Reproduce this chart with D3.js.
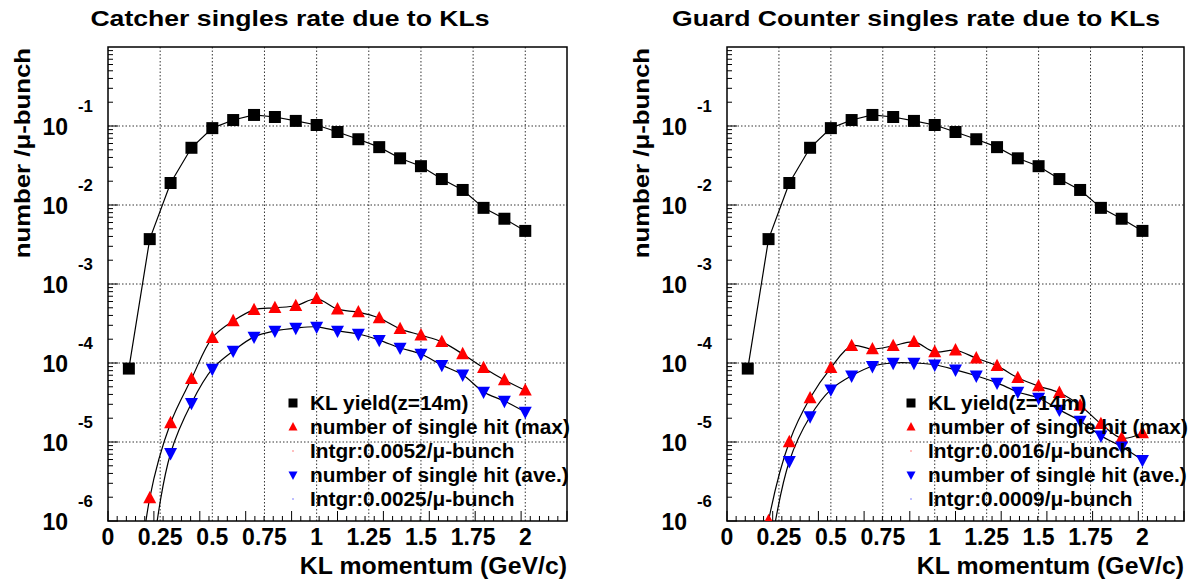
<!DOCTYPE html>
<html><head><meta charset="utf-8">
<script src="https://cdn.jsdelivr.net/npm/d3@7"></script>
<style>
body{margin:0;background:#fff}
svg{display:block}
text{font-family:"Liberation Sans",Arial,Helvetica,sans-serif;font-weight:bold;fill:#000}
</style>
</head><body>
<svg id="c" width="1193" height="584"></svg>
<script>
// ---------------- data ----------------
const momentum = [0.1,0.2,0.3,0.4,0.5,0.6,0.7,0.8,0.9,1.0,1.1,1.2,1.3,1.4,1.5,1.6,1.7,1.8,1.9,2.0];
const klYield = [8.5e-5,3.7e-3,1.9e-2,5.3e-2,0.094,0.119,0.138,0.130,0.116,0.103,0.084,0.068,0.054,0.039,0.031,0.0213,0.0155,0.0092,0.0067,0.0047];
const catcherMax = [1e-8,1.95e-6,1.74e-5,6.3e-5,2.08e-4,3.4e-4,4.7e-4,5.0e-4,5.3e-4,6.5e-4,4.8e-4,4.4e-4,3.7e-4,2.7e-4,2.25e-4,1.85e-4,1.3e-4,8.7e-5,6.1e-5,4.5e-5];
const catcherAve = [1e-9,2.2e-7,7.2e-6,3.1e-5,8.4e-5,1.42e-4,2.14e-4,2.55e-4,2.77e-4,2.87e-4,2.55e-4,2.33e-4,1.95e-4,1.55e-4,1.30e-4,9.4e-5,7.1e-5,4.3e-5,3.3e-5,2.4e-5];
const guardMax = [1e-8,1.0e-6,1.0e-5,3.6e-5,8.7e-5,1.65e-4,1.5e-4,1.65e-4,1.85e-4,1.38e-4,1.45e-4,1.15e-4,9.2e-5,6.5e-5,5.1e-5,4.2e-5,2.9e-5,1.7e-5,1.12e-5,1.3e-5];
const guardAve = [1e-9,3e-7,5.7e-6,2.1e-5,4.6e-5,6.9e-5,9.1e-5,1.0e-4,1.0e-4,9.5e-5,8.2e-5,6.9e-5,5.6e-5,4.3e-5,3.6e-5,2.55e-5,1.85e-5,1.2e-5,8.7e-6,5.9e-6];

const xTickValues = [0,0.25,0.5,0.75,1,1.25,1.5,1.75,2];
const xTickLabels = ["0","0.25","0.5","0.75","1","1.25","1.5","1.75","2"];
const yDecadeExponents = [-1,-2,-3,-4,-5,-6];

const panelTitles = ["Catcher singles rate due to KLs","Guard Counter singles rate due to KLs"];
const legendLabels = ["KL yield(z=14m)","number of single hit (max)","Intgr:0.0052/\u03bc-bunch","number of single hit (ave.)","Intgr:0.0025/\u03bc-bunch"];
const legendLabels2 = ["KL yield(z=14m)","number of single hit (max)","Intgr:0.0016/\u03bc-bunch","number of single hit (ave.)","Intgr:0.0009/\u03bc-bunch"];
const xTitle = "KL momentum (GeV/c)";
const yTitle = "number /\u03bc-bunch";

// ---------------- drawing ----------------
const svg = d3.select("#c");
const panels = [
  {left:108, right:567, top:47, bottom:521, titleX:290, max:catcherMax, ave:catcherAve, legend:legendLabels, legX:293},
  {left:727, right:1184, top:47, bottom:521, titleX:916, max:guardMax, ave:guardAve, legend:legendLabels2, legX:911}
];

function markerPath(type, s){
  if(type==="square") return `M${-s/2},${-s/2}h${s}v${s}h${-s}Z`;
  const h = s*0.5;
  if(type==="up") return `M0,${-h*1.1}L${h},${h*0.8}L${-h},${h*0.8}Z`;
  return `M0,${h*1.1}L${h},${-h*0.8}L${-h},${-h*0.8}Z`;
}

// text placed at (x,y), horizontally stretched by sx around its anchor
function addText(sel, x, y, str, size, anchor, sx, rot){
  const tr = `translate(${x},${y})` + (rot?` rotate(${rot})`:"") + ` scale(${sx},1)`;
  return sel.append("text").attr("transform",tr).attr("text-anchor",anchor)
    .style("font-size",size+"px").text(str);
}

panels.forEach((p,i)=>{
  const g = svg.append("g");
  const x = d3.scaleLinear().domain([0,2.2]).range([p.left,p.right]);
  const y = d3.scaleLog().domain([1e-6,1]).range([p.bottom,p.top]);

  const clipId = "clip"+i;
  svg.append("clipPath").attr("id",clipId).append("rect")
    .attr("x",p.left).attr("y",p.top).attr("width",p.right-p.left).attr("height",p.bottom-p.top);

  // grid
  const grid = g.append("g").attr("stroke","#000").attr("stroke-width",0.8).attr("stroke-dasharray","1.5,2");
  xTickValues.filter(v=>v>0).forEach(v=>{
    grid.append("line").attr("x1",x(v)).attr("x2",x(v)).attr("y1",p.top).attr("y2",p.bottom);
  });
  yDecadeExponents.filter(e=>e>-6).forEach(e=>{
    grid.append("line").attr("x1",p.left).attr("x2",p.right).attr("y1",y(Math.pow(10,e))).attr("y2",y(Math.pow(10,e)));
  });

  // y ticks (log minor)
  const tk = g.append("g").attr("stroke","#000").attr("stroke-width",1);
  for(let e=-6;e<0;e++){
    for(let m=1;m<10;m++){
      const v = m*Math.pow(10,e);
      const yy = y(v);
      const len = m===1?10:5;
      tk.append("line").attr("x1",p.left).attr("x2",p.left+len).attr("y1",yy).attr("y2",yy);
    }
  }
  // x ticks
  const xMinor = d3.range(0,2.2001,0.044);
  xMinor.forEach((v,k)=>{
    const len = (k%5===0)?10:5;
    tk.append("line").attr("x1",x(v)).attr("x2",x(v)).attr("y1",p.bottom).attr("y2",p.bottom-len);
  });

  // frame
  g.append("rect").attr("x",p.left).attr("y",p.top).attr("width",p.right-p.left).attr("height",p.bottom-p.top)
    .attr("fill","none").attr("stroke","#000").attr("stroke-width",1.5);

  // x labels
  xTickValues.forEach((v,k)=>{
    addText(g, x(v), p.bottom+24, xTickLabels[k], 23, "middle", 1.0);
  });
  // y labels
  yDecadeExponents.forEach(e=>{
    const yy = y(Math.pow(10,e));
    addText(g, p.left-40, yy+9, "10", 23, "end", 1.0);
    addText(g, p.left-30, yy-14, String(e), 16, "start", 1.05);
  });

  // titles
  addText(g, p.titleX, 26, panelTitles[i], 22, "middle", 1.21);
  addText(g, p.right, 574, xTitle, 23, "end", 1.08);
  addText(g, p.left-78, p.top+1, yTitle, 23, "end", 1.12, -90);

  // data
  const dg = g.append("g").attr("clip-path",`url(#${clipId})`);
  const series = [
    {vals:klYield, type:"square", color:"#000", curve:d3.curveLinear},
    {vals:p.max, type:"up", color:"#ff0000", curve:d3.curveCatmullRom.alpha(0.5)},
    {vals:p.ave, type:"down", color:"#0000ff", curve:d3.curveCatmullRom.alpha(0.5)}
  ];
  series.forEach(s=>{
    const pts = momentum.map((m,k)=>[m,s.vals[k]]);
    const line = d3.line().x(d=>x(d[0])).y(d=>y(d[1])).curve(s.curve);
    dg.append("path").attr("d",line(pts)).attr("fill","none").attr("stroke","#000").attr("stroke-width",1.2);
  });
  series.forEach(s=>{
    const pts = momentum.map((m,k)=>[m,s.vals[k]]);
    dg.selectAll(null).data(pts).enter().append("path")
      .attr("transform",d=>`translate(${x(d[0])},${y(d[1])})`)
      .attr("d",markerPath(s.type, s.type==="square"?12:13))
      .attr("fill",s.color);
  });

  // legend
  const lg = g.append("g");
  const legTypes = ["square","up","dotr","down","dotb"];
  const legColors = ["#000","#ff0000","#ff0000","#0000ff","#0000ff"];
  p.legend.forEach((lab,k)=>{
    const ly = 403 + k*24;
    const t = legTypes[k];
    if(t==="dotr"||t==="dotb"){
      lg.append("rect").attr("x",p.legX-0.5).attr("y",ly-0.5).attr("width",1).attr("height",1).attr("fill",legColors[k]);
    } else {
      lg.append("path").attr("transform",`translate(${p.legX},${ly})`).attr("d",markerPath(t,9)).attr("fill",legColors[k]);
    }
    addText(lg, p.legX+17, ly+7, lab, 20, "start", 1.04);
  });
});
</script>
</body></html>
